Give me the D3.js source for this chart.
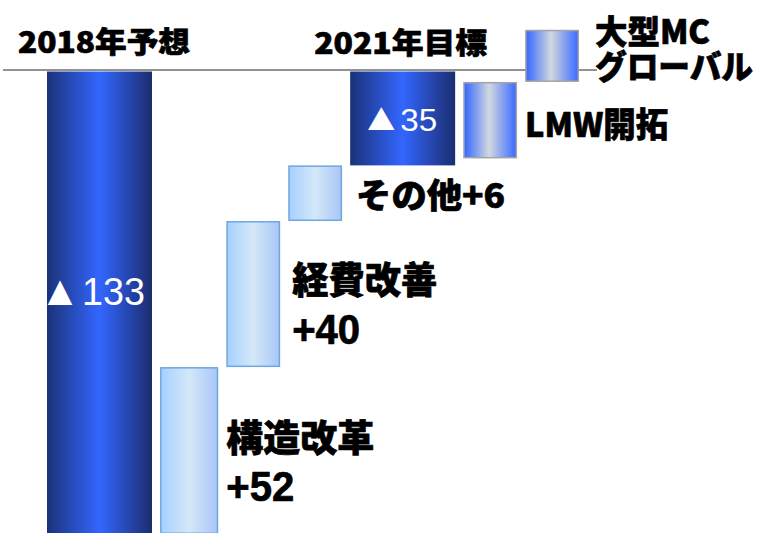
<!DOCTYPE html>
<html><head><meta charset="utf-8">
<script src="https://cdn.jsdelivr.net/npm/d3@7"></script>
<style>
html,body{margin:0;padding:0;background:#fff;}
svg{display:block;}
text{font-family:"Noto Sans CJK JP","Noto Sans",sans-serif;}
</style></head>
<body>
<script>
// ---- data ----
const categories = ["2018年予想","構造改革","経費改善","その他","2021年目標","LMW開拓","大型MC"];
const kinds      = ["total","step","step","step","total","strategic","strategic"];
// displayed figures, negative shown as ▲
const displayValues = [-133, 52, 40, 6, -35, null, null];
// bar extents on the chart's (schematic) vertical scale
const barFrom = [0, -133, -85, -43, -27, -25, -3];
const barTo   = [-133, -85, -43, -27, 0, -3, 12];
// label texts
const labelLines = [
  ["2018年予想"], ["構造改革","+52"], ["経費改善","+40"], ["その他+6"],
  ["2021年目標"], ["LMW開拓"], ["大型MC","グローバル"]
];

// ---- layout / style ----
const W = 759, H = 533;
const widthUnits = [1.95,1.08,1,1,1.95,1,1];
const gapUnits = 0.15;

const svg = d3.select("body").append("svg").attr("width",W).attr("height",H);
const defs = svg.append("defs");
function grad(id, stops){
  const g = defs.append("linearGradient").attr("id",id).attr("x1","0").attr("x2","1").attr("y1","0").attr("y2","0");
  stops.forEach(s=>g.append("stop").attr("offset",s[0]).attr("stop-color",s[1]));
}
grad("gTotal",[[0,"#1b3278"],[0.5,"#3366ff"],[1,"#1b2d6e"]]);
grad("gStep",[[0,"#a6d0ff"],[0.5,"#d4e8f8"],[1,"#a9c6f7"]]);
grad("gStrat",[[0,"#3366ff"],[0.48,"#d2d8e0"],[1,"#3a6aff"]]);
const fillOf = {total:"url(#gTotal)", step:"url(#gStep)", strategic:"url(#gStrat)"};
const strokeOf = {total:"none", step:"#6ea6e0", strategic:"#a4a4a4"};

// x positions via linear scale over width units
const starts = []; let acc = 0;
widthUnits.forEach((w,i)=>{ starts.push(acc); acc += w + (i<widthUnits.length-1?gapUnits:0); });
const x = d3.scaleLinear().domain([0, acc]).range([47, 579]);
const y = d3.scaleLinear().domain([-133, 0]).range([534, 71.5]);

const rows = categories.map((c,i)=>({
  c, i, kind:kinds[i], v:displayValues[i],
  x0:x(starts[i]), x1:x(starts[i]+widthUnits[i]),
  yTop:y(Math.max(barFrom[i],barTo[i])), yBot:y(Math.min(barFrom[i],barTo[i]))
}));

// baseline line
svg.append("line").attr("x1",3).attr("x2",597).attr("y1",y(0)-1.5).attr("y2",y(0)-1.5)
  .attr("stroke","#6e6e6e").attr("stroke-width",1.6);

// bars
svg.selectAll("rect.bar").data(rows).join("rect").attr("class","bar")
  .attr("x",d=>d.x0 + (d.kind==="total"?0:0.75))
  .attr("width",d=>d.x1-d.x0-(d.kind==="total"?0:1.5))
  .attr("y",d=>d.yTop + (d.kind==="total"?0:0.75))
  .attr("height",d=>d.yBot-d.yTop-(d.kind==="total"?0:1.5))
  .attr("fill",d=>fillOf[d.kind]).attr("stroke",d=>strokeOf[d.kind]).attr("stroke-width",1.5);

// values inside total bars: triangle (CJK font) + digits (Latin font)
const valLayout = {
  0:{dy:2, dx0:0, triSize:30, triLen:26, gap:9, size:38, len:63},
  4:{dy:13, dx0:17, triSize:28, triLen:28, gap:5, size:32, len:37}
};
rows.filter(d=>d.kind==="total").forEach(d=>{
  const L = valLayout[d.i];
  const bx = d.x0 + L.dx0, by = (d.yTop+d.yBot)/2 + L.dy;
  const t = svg.append("text").attr("y",by).attr("fill","#fff").attr("font-weight",400);
  t.append("tspan").attr("x",bx).attr("font-size",L.triSize)
    .attr("textLength",L.triLen).attr("lengthAdjust","spacingAndGlyphs").text("▲");
  t.append("tspan").attr("x",bx+L.triLen+L.gap).attr("font-size",L.size)
    .style("font-family","'Liberation Sans',sans-serif")
    .attr("textLength",L.len).attr("lengthAdjust","spacingAndGlyphs")
    .text(Math.abs(d.v));
});

// category labels (multi-line labels as one text with tspans)
const lab = {
  0:{ref:"top", dx:-29, dy:-18.5, lines:[{size:29,len:172}]},
  4:{ref:"top", dx:-36, dy:-17.5, lines:[{size:29,len:173}]},
  1:{ref:"right", dx:8, dy:1, gap:49, lines:[{size:37,len:148},{size:42,len:68,latin:true}]},
  2:{ref:"right", dx:12, dy:0, gap:50, lines:[{size:37,len:145},{size:42,len:68,latin:true}]},
  3:{ref:"right", dx:14, dy:15, lines:[{size:34,len:149}]},
  5:{ref:"right", dx:8, dy:17, lines:[{size:34,len:143}]},
  6:{ref:"right", dx:16, dy:-12, gap:35, lines:[{size:33,len:115},{size:33,len:158}]}
};
rows.forEach(d=>{
  const L = lab[d.i];
  let bx, by;
  if(L.ref==="top"){ bx = d.x0 + L.dx; by = d.yTop + L.dy; }
  else { bx = d.x1 + L.dx; by = (d.yTop+d.yBot)/2 + L.dy; }
  const t = svg.append("text").attr("x",bx).attr("y",by)
    .attr("font-weight",900).attr("fill","#000")
    .attr("stroke","#000").attr("stroke-width",0.7).attr("stroke-linejoin","round");
  labelLines[d.i].forEach((s,k)=>{
    const st = L.lines[k];
    const sp = t.append("tspan").attr("x",bx).attr("y",by + k*(L.gap||0))
      .attr("font-size",st.size)
      .attr("textLength",st.len).attr("lengthAdjust","spacingAndGlyphs")
      .text(s);
    if(st.latin) sp.style("font-family","'Liberation Sans',sans-serif").attr("font-weight",700);
  });
});
</script>
</body></html>
